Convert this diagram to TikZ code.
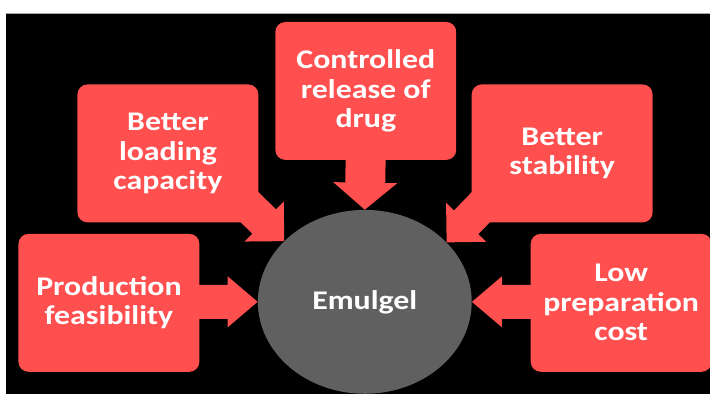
\documentclass[tikz,border=0pt]{standalone}
\usepackage{fontspec}
\newfontfamily\boxfont{Carlito}[FakeStretch=1.18]
\usetikzlibrary{shapes.geometric,calc}
\definecolor{boxred}{RGB}{255,79,79}
\definecolor{emgray}{RGB}{96,96,96}
\newcommand\blockarrow[5]{%
  \coordinate (hb) at ($(#2)!#5!(#1)$);
  \fill[boxred] ($(#1)!#3!90:(#2)$) -- ($(hb)!#3!-90:(#1)$) -- ($(hb)!#4!-90:(#1)$) -- (#2)
    -- ($(hb)!#4!90:(#1)$) -- ($(hb)!#3!90:(#1)$) -- ($(#1)!#3!-90:(#2)$) -- cycle;
}
\begin{document}
\begin{tikzpicture}[x=1pt,y=1pt,
  txt/.style={font=\boxfont\bfseries\fontsize{27}{29.5}\selectfont, text=white, align=center},
  benefit/.style={txt, rectangle, fill=boxred, rounded corners=10pt, inner sep=0pt,
    minimum width=181pt, minimum height=138pt}]
\fill[white] (0,0) rectangle (710,394);
\fill[black] (6,0) rectangle (710,381);
\draw[gray!70, line width=0.8pt] (6,381) -- (710,381);
\useasboundingbox (0,0) rectangle (710,394);

\node[ellipse, fill=emgray, minimum width=214pt, minimum height=184pt, inner sep=0pt, txt] (em) at (365,92) {Emulgel};

\node[benefit] (top) at (366,303) {Controlled\\release of\\drug};
\node[benefit] (lt) at (168,240.5) {Better\\loading\\capacity};
\node[benefit] (rt) at (562.5,240.5) {Better\\stability};
\node[benefit] (lb) at (109,91) {Production\\feasibility};
\node[benefit] (rb) at (621.5,91) {Low\\preparation\\cost};

\coordinate (topS) at (366,244);
\coordinate (ltS) at (234,202);
\coordinate (rtS) at (496,202);
\coordinate (lbS) at (190,92);
\coordinate (rbS) at (540,92);

\blockarrow{topS}{em.north}{20pt}{32pt}{27pt}
\blockarrow{lbS}{em.west}{17pt}{25.5pt}{30pt}
\blockarrow{rbS}{em.east}{17pt}{25.5pt}{30pt}
\blockarrow{ltS}{em.143.5}{17pt}{28pt}{28pt}
\blockarrow{rtS}{em.36.5}{17pt}{28pt}{28pt}
\end{tikzpicture}
\end{document}
